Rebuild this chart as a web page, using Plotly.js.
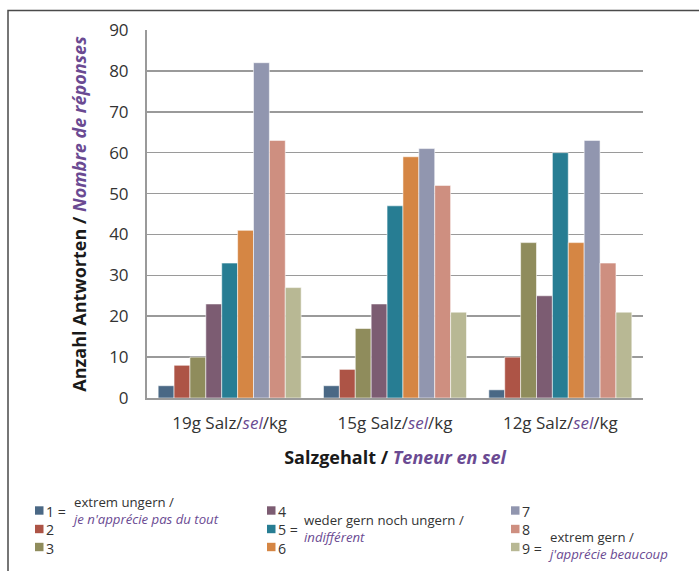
<!DOCTYPE html>
<html>
<head>
<meta charset="utf-8">
<script src="https://cdn.plot.ly/plotly-3.0.1.min.js"></script>
<style>html,body{margin:0;padding:0;background:#fff;}#chart{width:699px;height:571px;}</style>
</head>
<body>
<div id="chart"></div>
<script>
// ---- data ----
const categories = ["19g Salz/<span style='color:#6a4a92'><i>sel</i></span>/kg",
                    "15g Salz/<span style='color:#6a4a92'><i>sel</i></span>/kg",
                    "12g Salz/<span style='color:#6a4a92'><i>sel</i></span>/kg"];
const seriesNames = ["1", "2", "3", "4", "5", "6", "7", "8", "9"];
const s1 = [3, 3, 2];
const s2 = [8, 7, 10];
const s3 = [10, 17, 38];
const s4 = [23, 23, 25];
const s5 = [33, 47, 60];
const s6 = [41, 59, 38];
const s7 = [82, 61, 63];
const s8 = [63, 52, 33];
const s9 = [27, 21, 21];
const seriesValues = [s1, s2, s3, s4, s5, s6, s7, s8, s9];
const colors = ["#4a6885", "#ad5446", "#8f8c5c", "#7c5c72", "#277d93", "#d58644",
                "#9196af", "#ce8f80", "#b8b894"];
const yTicks = [0, 10, 20, 30, 40, 50, 60, 70, 80, 90];

// ---- geometry helpers (pixels -> paper) ----
const W = 699, H = 571, L = 147, R = 643, T = 30, B = 398;
const px = x => (x - L) / (R - L);
const py = y => (B - y) / (B - T);

const traces = seriesValues.map((vals, i) => ({
  type: 'bar',
  x: categories,
  y: vals,
  name: seriesNames[i],
  marker: {color: colors[i], line: {color: 'rgba(255,255,255,0.55)', width: 1}},
  showlegend: false,
  hoverinfo: 'y'
}));

const purple = '#6a4a92';
const txt = '#333333';
const FONT = 'Open Sans, DejaVu Sans, sans-serif';

// custom legend
const legendCols = [
  {x: 35, labels: ["1 =", "2", "3"], desc1: "extrem ungern /", desc2: "je n'apprécie pas du tout", descX: 73, dy1: 503, dy2: 518},
  {x: 267, labels: ["4", "5 =", "6"], desc1: "weder gern noch ungern /", desc2: "indifférent", descX: 305, dy1: 521, dy2: 536},
  {x: 511, labels: ["7", "8", "9 ="], desc1: "extrem gern /", desc2: "j'apprécie beaucoup", descX: 549, dy1: 538, dy2: 553}
];
const rowY = [510.5, 529, 547];
const shapes = [];
const annotations = [];
legendCols.forEach((col, c) => {
  col.labels.forEach((lab, r) => {
    const si = c * 3 + r;
    shapes.push({type: 'rect', xref: 'paper', yref: 'paper',
      x0: px(col.x), x1: px(col.x + 8.5), y0: py(rowY[r] + 4.2), y1: py(rowY[r] - 4.2),
      fillcolor: colors[si], line: {width: 0}});
  });
  annotations.push({xref: 'paper', yref: 'paper', x: px(col.x + 10), y: py(rowY[1] + 1),
    xanchor: 'left', yanchor: 'middle', align: 'left', showarrow: false,
    text: col.labels.join('<br>'), borderpad: 0,
    font: {family: FONT, size: 14.2, color: txt}});
  annotations.push({xref: 'paper', yref: 'paper', x: px(col.descX - 2), y: py((col.dy1 + col.dy2) / 2),
    xanchor: 'left', yanchor: 'middle', align: 'left', showarrow: false, borderpad: 0,
    text: col.desc1 + "<br><span style='color:" + purple + "'><i>" + col.desc2 + "</i></span>",
    font: {family: FONT, size: 13.2, color: txt}});
});

// outer frame (left + top)
shapes.push({type: 'path', xref: 'paper', yref: 'paper',
  path: `M ${px(8)},${py(H + 5)} L ${px(8)},${py(10.5)} L ${px(W + 5)},${py(10.5)}`,
  line: {color: '#4a4a4a', width: 1.5}});

const layout = {
  width: W, height: H,
  margin: {l: L, r: W - R, t: T, b: H - B, pad: 0},
  paper_bgcolor: '#ffffff', plot_bgcolor: '#ffffff',
  barmode: 'group', bargap: 0.135, bargroupgap: 0,
  font: {family: FONT, color: txt},
  xaxis: {
    type: 'category',
    showline: true, linecolor: '#9a9a9a', linewidth: 2,
    ticks: 'outside', ticklen: 9, tickcolor: 'rgba(0,0,0,0)',
    tickfont: {family: FONT, size: 17, color: txt},
    title: {text: "<b>Salzgehalt / </b><span style='color:" + purple + "'><b><i>Teneur en sel</i></b></span>",
            font: {family: FONT, size: 18, color: '#1a1a1a'}, standoff: 18},
    automargin: false, fixedrange: true
  },
  yaxis: {
    range: [0, 90], tickvals: yTicks, ticktext: yTicks.map(String),
    showgrid: true, gridcolor: '#9a9a9a', gridwidth: 1.6, zeroline: false,
    showline: true, linecolor: '#9a9a9a', linewidth: 2,
    ticks: 'outside', ticklen: 13, tickcolor: 'rgba(0,0,0,0)',
    tickfont: {family: FONT, size: 17, color: txt},
    title: {text: "<b>Anzahl Antworten / </b><span style='color:" + purple + "'><b><i>Nombre de réponses</i></b></span>",
            font: {family: FONT, size: 18, color: '#1a1a1a'}, standoff: 18},
    automargin: false, fixedrange: true
  },
  shapes: shapes,
  annotations: annotations,
  showlegend: false
};

Plotly.newPlot('chart', traces, layout, {displayModeBar: false, staticPlot: true});
</script>
</body>
</html>
